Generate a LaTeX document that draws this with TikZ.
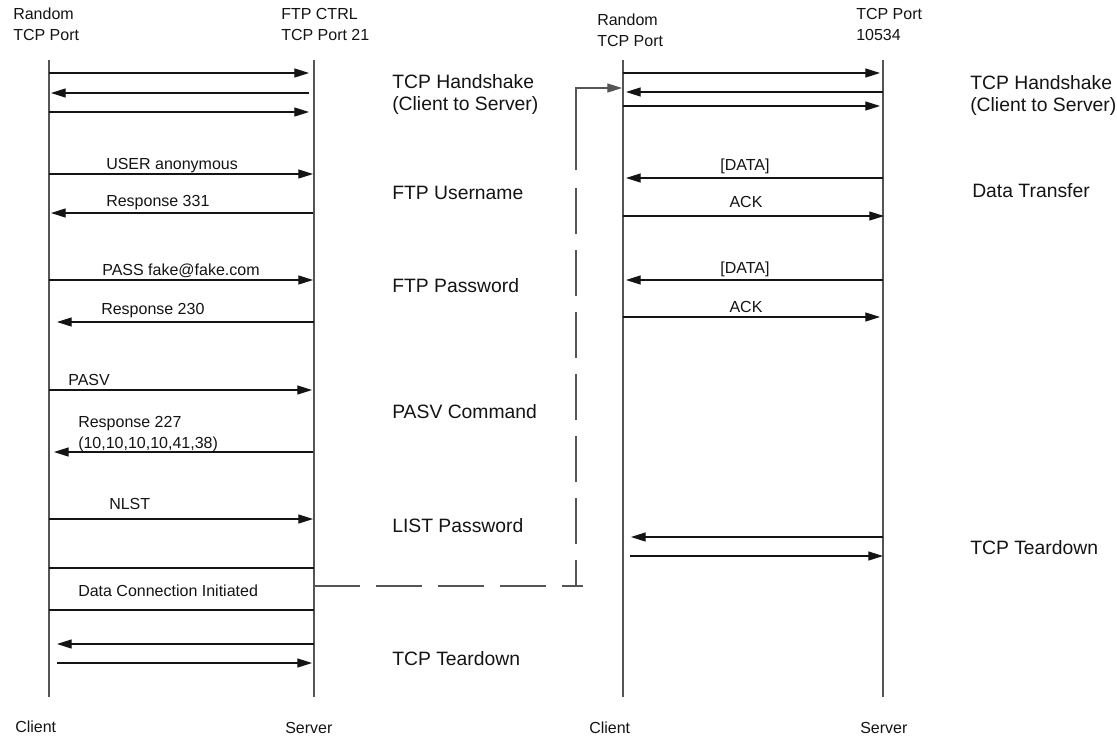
\documentclass[tikz,border=0pt]{standalone}
\usepackage{fontspec}
\setmainfont{Liberation Sans}
\usetikzlibrary{arrows.meta}
\definecolor{lifegray}{RGB}{85,85,85}
\definecolor{ink}{RGB}{20,20,20}
\begin{document}
\begin{tikzpicture}[x=0.75pt,y=-0.75pt,
  life/.style={draw=lifegray, line width=0.9pt},
  msg/.style={draw=ink, line width=0.9pt, -{Triangle[length=11pt,width=6.75pt]}},
  plainline/.style={draw=ink, line width=0.9pt},
  longdash/.style={draw=lifegray, line width=0.9pt, dash pattern=on 34.5pt off 12pt},
  small/.style={font=\fontsize{12}{15.75}\selectfont, text=ink, inner sep=0pt, anchor=base west, align=left},
  big/.style={font=\fontsize{14.5}{16.5}\selectfont, text=ink, inner sep=0pt, anchor=base west, align=left},
  mid/.style={font=\fontsize{12}{15.75}\selectfont, text=ink, inner sep=0pt, anchor=base}]
\useasboundingbox (0,0) rectangle (1117,736);
\fill[white] (0,0) rectangle (1117,736);

% lifelines
\coordinate (LCt) at (49,60);  \coordinate (LCb) at (49,697);
\coordinate (LSt) at (314,60); \coordinate (LSb) at (314,697);
\coordinate (RCt) at (623,60); \coordinate (RCb) at (623,697);
\coordinate (RSt) at (883,60); \coordinate (RSb) at (883,697);
\draw[life] (LCt) -- (LCb);
\draw[life] (LSt) -- (LSb);
\draw[life] (RCt) -- (RCb);
\draw[life] (RSt) -- (RSb);

% headers and footers (base = last line)
\node[small] (hLC) at (13,40) {Random\\TCP Port};
\node[small] (hLS) at (281,40) {FTP CTRL\\TCP Port 21};
\node[small] (hRC) at (597,46) {Random\\TCP Port};
\node[small] (hRS) at (856,40) {TCP Port\\10534};
\node[small] (fLC) at (15,732) {Client};
\node[small] (fLS) at (285,733) {Server};
\node[small] (fRC) at (589,733) {Client};
\node[small] (fRS) at (860,733) {Server};

% left exchange: message end points
\coordinate (a1) at (49,73);   \coordinate (b1) at (309,73);
\coordinate (a2) at (309,93);  \coordinate (b2) at (51,93);
\coordinate (a3) at (49,112);  \coordinate (b3) at (309,112);
\coordinate (a4) at (49,174);  \coordinate (b4) at (313,174);
\coordinate (a5) at (313,213); \coordinate (b5) at (51,213);
\coordinate (a6) at (49,280);  \coordinate (b6) at (313,280);
\coordinate (a7) at (314,322); \coordinate (b7) at (57,322);
\coordinate (a8) at (49,390);  \coordinate (b8) at (312,390);
\coordinate (a9) at (313,452); \coordinate (b9) at (54,452);
\coordinate (a10) at (49,519); \coordinate (b10) at (313,519);
\coordinate (a11) at (49,568); \coordinate (b11) at (314,568);
\coordinate (a12) at (49,610); \coordinate (b12) at (314,610);
\coordinate (a13) at (314,644); \coordinate (b13) at (57,644);
\coordinate (a14) at (57,663); \coordinate (b14) at (312,663);

\draw[msg] (a1) -- (b1);
\draw[msg] (a2) -- (b2);
\draw[msg] (a3) -- (b3);
\draw[msg] (a4) -- (b4);
\draw[msg] (a5) -- (b5);
\draw[msg] (a6) -- (b6);
\draw[msg] (a7) -- (b7);
\draw[msg] (a8) -- (b8);
\draw[msg] (a9) -- (b9);
\draw[msg] (a10) -- (b10);
\draw[plainline] (a11) -- (b11);
\draw[plainline] (a12) -- (b12);
\draw[msg] (a13) -- (b13);
\draw[msg] (a14) -- (b14);

\node[small] (l4) at (106,169) {USER anonymous};
\node[small] (l5) at (106,206) {Response 331};
\node[small] (l6) at (102,275) {PASS fake@fake.com};
\node[small] (l7) at (101,314) {Response 230};
\node[small] (l8) at (68,385) {PASV};
\node[small] (l9) at (78,448) {Response 227\\(10,10,10,10,41,38)};
\node[small] (l10) at (109,509) {NLST};
\node[small] (l11) at (78,596) {Data Connection Initiated};

\node[big] (g1) at (392,110) {TCP Handshake\\(Client to Server)};
\node[big] (g2) at (392,199) {FTP Username};
\node[big] (g3) at (392,292) {FTP Password};
\node[big] (g4) at (392,418) {PASV Command};
\node[big] (g5) at (392,532) {LIST Password};
\node[big] (g6) at (392,665) {TCP Teardown};

% right exchange
\coordinate (c1) at (623,73);  \coordinate (d1) at (880,73);
\coordinate (c2) at (883,92);  \coordinate (d2) at (626,92);
\coordinate (c3) at (623,106); \coordinate (d3) at (880,106);
\coordinate (c4) at (883,178); \coordinate (d4) at (626,178);
\coordinate (c5) at (623,216); \coordinate (d5) at (884,216);
\coordinate (c6) at (883,280); \coordinate (d6) at (626,280);
\coordinate (c7) at (623,317); \coordinate (d7) at (880,317);
\coordinate (c8) at (883,537); \coordinate (d8) at (631,537);
\coordinate (c9) at (630,556); \coordinate (d9) at (883,556);

\draw[msg] (c1) -- (d1);
\draw[msg] (c2) -- (d2);
\draw[msg] (c3) -- (d3);
\draw[msg] (c4) -- (d4);
\draw[msg] (c5) -- (d5);
\draw[msg] (c6) -- (d6);
\draw[msg] (c7) -- (d7);
\draw[msg] (c8) -- (d8);
\draw[msg] (c9) -- (d9);

\node[mid] (r4) at (745,170) {[DATA]};
\node[mid] (r5) at (746,207) {ACK};
\node[mid] (r6) at (745,273) {[DATA]};
\node[mid] (r7) at (746,312) {ACK};

\node[big] (k1) at (970,111) {TCP Handshake\\(Client to Server)};
\node[big] (k2) at (972,197) {Data Transfer};
\node[big] (k3) at (970,554) {TCP Teardown};

% data connection link
\coordinate (dc0) at (314,586);
\coordinate (dc1) at (583,586);
\coordinate (dc2) at (576,586);
\coordinate (dc3) at (576,188);
\coordinate (dc4) at (576,170);
\coordinate (dc5) at (576,88);
\coordinate (dc6) at (622,88);
\draw[longdash] (dc0) -- (dc1);
\draw[longdash] (dc3) -- (dc2);
\draw[draw=lifegray, line width=0.9pt, -{Triangle[length=11pt,width=6.75pt]}] (dc4) -- (dc5) -- (dc6);
\end{tikzpicture}
\end{document}
